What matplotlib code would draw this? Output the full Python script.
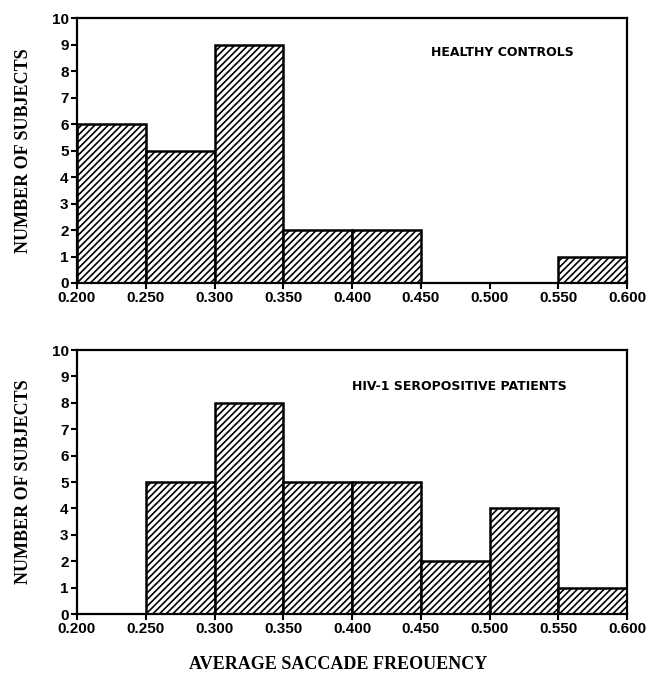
import matplotlib
matplotlib.use("Agg")
import matplotlib.pyplot as plt

# bin edges and counts
bin_edges = [0.200, 0.250, 0.300, 0.350, 0.400, 0.450, 0.500, 0.550, 0.600]
controls = [6, 5, 9, 2, 2, 0, 0, 1]
patients = [0, 5, 8, 5, 5, 2, 4, 1]
tick_labels = ["0.200", "0.250", "0.300", "0.350", "0.400", "0.450", "0.500", "0.550", "0.600"]

plt.rcParams["hatch.linewidth"] = 1.2

fig = plt.figure(figsize=(6.52, 6.77), dpi=100)
ax1 = fig.add_axes([0.118, 0.582, 0.844, 0.391])
ax2 = fig.add_axes([0.118, 0.093, 0.844, 0.390])

tick_font = {"family": "Liberation Sans", "weight": "bold", "size": 11}
label_font = {"family": "Liberation Serif", "weight": "bold", "size": 13}

def draw(ax, counts, title, tx, ty):
    lefts = bin_edges[:-1]
    widths = [bin_edges[i + 1] - bin_edges[i] for i in range(len(lefts))]
    for left, w, c in zip(lefts, widths, counts):
        if c > 0:
            ax.bar(left, c, width=w, align="edge", facecolor="white",
                   edgecolor="black", hatch="/////", linewidth=1.8)
    ax.set_xlim(0.2, 0.6)
    ax.set_ylim(0, 10)
    ax.set_xticks(bin_edges)
    ax.set_xticklabels(tick_labels, fontdict=tick_font)
    ax.set_yticks(range(0, 11))
    ax.set_yticklabels([str(v) for v in range(0, 11)], fontdict=tick_font)
    ax.tick_params(direction="out", length=4, width=1.5, pad=2)
    for s in ax.spines.values():
        s.set_linewidth(1.6)
    ax.set_ylabel("NUMBER OF SUBJECTS", fontdict=label_font, labelpad=14)
    ax.text(tx, ty, title, fontdict={"family": "DejaVu Sans", "weight": "bold", "size": 9},
            ha="center", va="center")

draw(ax1, controls, "HEALTHY CONTROLS", 0.509, 8.7)
draw(ax2, patients, "HIV-1 SEROPOSITIVE PATIENTS", 0.478, 8.6)

fig.text(0.519, 0.018, "AVERAGE SACCADE FREOUENCY", ha="center", va="center",
         fontdict=label_font)

fig.savefig("out.png", dpi=100)
